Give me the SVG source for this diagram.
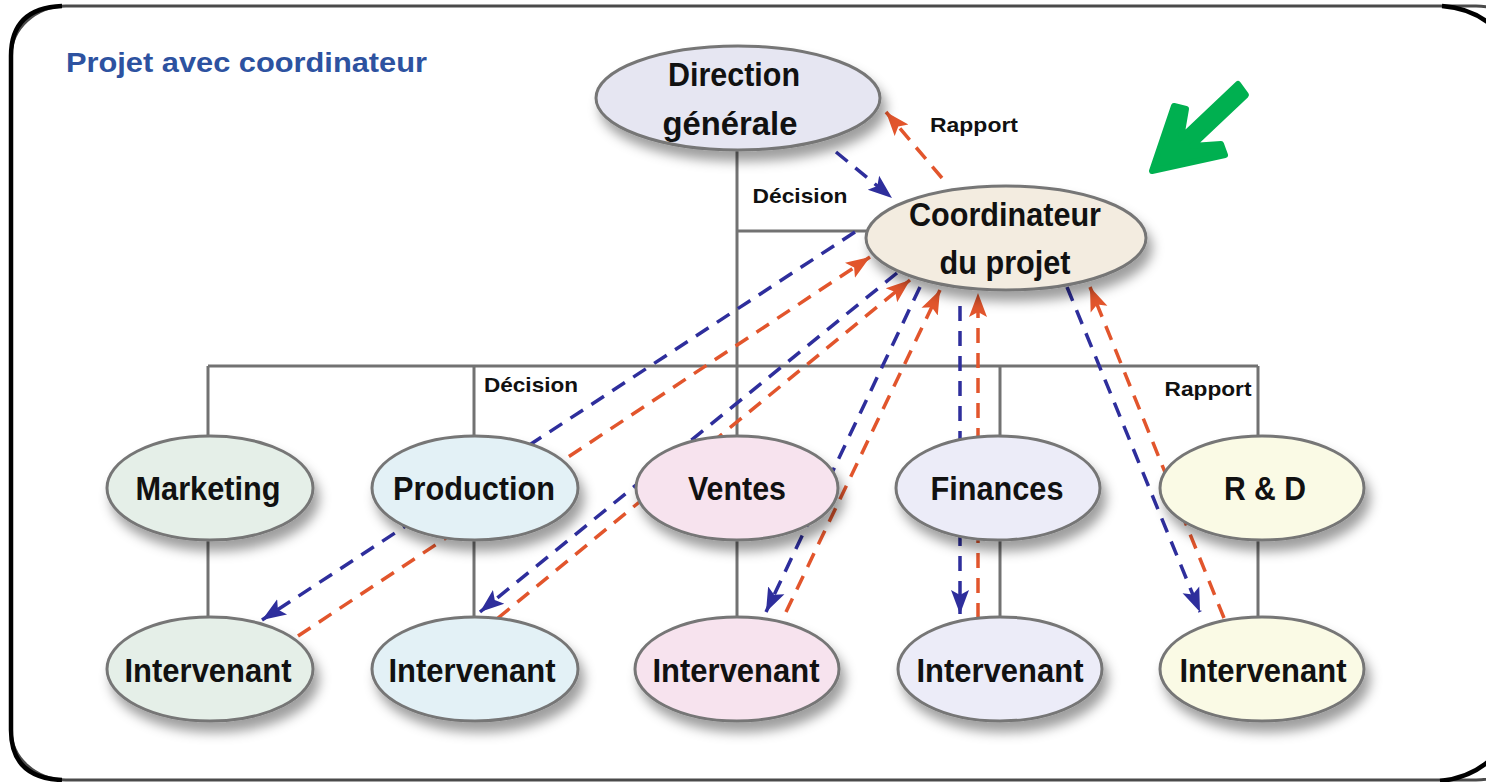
<svg xmlns="http://www.w3.org/2000/svg" width="1486" height="782" viewBox="0 0 1486 782">
<defs>
<style>
.node{stroke:#767676;stroke-width:3}
.lbl{font-family:"Liberation Sans Narrow","Liberation Sans",Arial,sans-serif;font-weight:bold;fill:#111;text-anchor:middle}
.big{font-size:34px}
.small{font-size:21px}
.hier{stroke:#727272;stroke-width:3;fill:none}
.blue{stroke:#2e2e9c;stroke-width:3.5;stroke-dasharray:15 10;fill:none;marker-end:url(#ab)}
.red{stroke:#e2552c;stroke-width:3.5;stroke-dasharray:15 10;fill:none;marker-end:url(#ar)}
</style>
<filter id="sh" x="-20%" y="-20%" width="150%" height="170%">
<feDropShadow dx="5" dy="10" stdDeviation="6" flood-color="#000" flood-opacity="0.38"/>
</filter>
<marker id="ab" markerUnits="userSpaceOnUse" markerWidth="26" markerHeight="22" refX="24" refY="11" orient="auto">
<path d="M0,2 L24,11 L0,20 L5,11 Z" fill="#2e2e9c"/>
</marker>
<marker id="ar" markerUnits="userSpaceOnUse" markerWidth="26" markerHeight="22" refX="24" refY="11" orient="auto">
<path d="M0,2 L24,11 L0,20 L5,11 Z" fill="#e2552c"/>
</marker>
</defs>
<rect width="1486" height="782" fill="#ffffff"/>
<g id="frame">
<rect x="11" y="6" width="1520" height="774" rx="55" ry="50" fill="none" stroke="#4a4a4a" stroke-width="3"/>
<path d="M62,6 Q11,8 11,56 L11,730 Q11,778 62,780" fill="none" stroke="#000" stroke-width="4.5"/>
<path d="M1442,6 Q1470,8 1490,24" fill="none" stroke="#000" stroke-width="4.5"/>
<path d="M1440,781 Q1470,778 1490,760" fill="none" stroke="#000" stroke-width="4.5"/>
</g>
<text x="66" y="72" font-family="Liberation Sans, Arial, sans-serif" font-weight="bold" font-size="28" fill="#2d52a0" textLength="361" lengthAdjust="spacingAndGlyphs">Projet avec coordinateur</text>
<g id="connectors">
<path class="hier" d="M737,150 V366 M208,366 H1258 M208,366 V436 M474,366 V436 M737,366 V436 M1000,366 V436 M1258,366 V436 M737,231 H870 M208,540 V616 M474,540 V616 M737,540 V616 M1000,540 V616 M1258,540 V616"/>
<line class="blue" x1="836" y1="152" x2="892" y2="198"/>
<line class="red" x1="942" y1="178" x2="886" y2="112"/>
<line class="blue" x1="855" y1="232" x2="262" y2="620"/>
<line class="red" x1="298" y1="636" x2="870" y2="257"/>
<line class="blue" x1="897" y1="273" x2="480" y2="612"/>
<line class="red" x1="498" y1="618" x2="910" y2="280"/>
<line class="blue" x1="920" y1="287" x2="766" y2="612"/>
<line class="red" x1="786" y1="612" x2="940" y2="290"/>
<line class="blue" x1="960" y1="306" x2="960" y2="614"/>
<line class="red" x1="978" y1="618" x2="978" y2="293"/>
<line class="blue" x1="1067" y1="287" x2="1200" y2="612"/>
<line class="red" x1="1224" y1="618" x2="1090" y2="287"/>
</g>
<g id="labels">
<text class="lbl small" x="800" y="203" textLength="95" lengthAdjust="spacingAndGlyphs">Décision</text>
<text class="lbl small" x="974" y="132" textLength="88" lengthAdjust="spacingAndGlyphs">Rapport</text>
<text class="lbl small" x="531" y="392" textLength="94" lengthAdjust="spacingAndGlyphs">Décision</text>
<text class="lbl small" x="1208" y="396" textLength="87" lengthAdjust="spacingAndGlyphs">Rapport</text>
</g>
<g id="direction">
<ellipse class="node" cx="738" cy="98" rx="142" ry="52" fill="#e6e6f2" filter="url(#sh)"/>
<text class="lbl big" x="734" y="86" textLength="132" lengthAdjust="spacingAndGlyphs">Direction</text>
<text class="lbl big" x="730" y="135" textLength="135" lengthAdjust="spacingAndGlyphs">générale</text>
</g>
<g id="coordinateur">
<ellipse class="node" cx="1006" cy="238" rx="140" ry="52" fill="#f3ece0" filter="url(#sh)"/>
<text class="lbl big" x="1005" y="226" textLength="192" lengthAdjust="spacingAndGlyphs">Coordinateur</text>
<text class="lbl big" x="1005" y="274" textLength="131" lengthAdjust="spacingAndGlyphs">du projet</text>
</g>
<g id="marketing">
<ellipse class="node" cx="210" cy="488" rx="103" ry="52" fill="#e5efe8" filter="url(#sh)"/>
<text class="lbl big" x="208" y="500" textLength="145" lengthAdjust="spacingAndGlyphs">Marketing</text>
</g>
<g id="production">
<ellipse class="node" cx="475" cy="488" rx="103" ry="52" fill="#e3f1f6" filter="url(#sh)"/>
<text class="lbl big" x="474" y="500" textLength="162" lengthAdjust="spacingAndGlyphs">Production</text>
</g>
<g id="ventes">
<ellipse class="node" cx="737" cy="488" rx="101" ry="52" fill="#f7e3ee" filter="url(#sh)"/>
<text class="lbl big" x="737" y="500" textLength="98" lengthAdjust="spacingAndGlyphs">Ventes</text>
</g>
<g id="finances">
<ellipse class="node" cx="998" cy="488" rx="102" ry="52" fill="#ececf8" filter="url(#sh)"/>
<text class="lbl big" x="997" y="500" textLength="133" lengthAdjust="spacingAndGlyphs">Finances</text>
</g>
<g id="rd">
<ellipse class="node" cx="1262" cy="488" rx="102" ry="52" fill="#fafae5" filter="url(#sh)"/>
<text class="lbl big" x="1265" y="500" textLength="82" lengthAdjust="spacingAndGlyphs">R &amp; D</text>
</g>
<g id="int-marketing">
<ellipse class="node" cx="210" cy="669" rx="103" ry="52" fill="#e5efe8" filter="url(#sh)"/>
<text class="lbl big" x="208" y="682" textLength="167" lengthAdjust="spacingAndGlyphs">Intervenant</text>
</g>
<g id="int-production">
<ellipse class="node" cx="475" cy="669" rx="103" ry="52" fill="#e3f1f6" filter="url(#sh)"/>
<text class="lbl big" x="472" y="682" textLength="167" lengthAdjust="spacingAndGlyphs">Intervenant</text>
</g>
<g id="int-ventes">
<ellipse class="node" cx="737" cy="669" rx="102" ry="52" fill="#f7e3ee" filter="url(#sh)"/>
<text class="lbl big" x="736" y="682" textLength="167" lengthAdjust="spacingAndGlyphs">Intervenant</text>
</g>
<g id="int-finances">
<ellipse class="node" cx="1000" cy="669" rx="102" ry="52" fill="#ececf8" filter="url(#sh)"/>
<text class="lbl big" x="1000" y="682" textLength="167" lengthAdjust="spacingAndGlyphs">Intervenant</text>
</g>
<g id="int-rd">
<ellipse class="node" cx="1262" cy="669" rx="102" ry="52" fill="#fafae5" filter="url(#sh)"/>
<text class="lbl big" x="1263" y="682" textLength="167" lengthAdjust="spacingAndGlyphs">Intervenant</text>
</g>
<g id="green-arrow">
<path d="M1152,171 L1174,106 L1186,109 L1181,138 L1238,84 L1246,95 L1192,146 L1221,144 L1225,155 Z" fill="#00b050" stroke="#00b050" stroke-width="6" stroke-linejoin="round"/>
</g>
</svg>
